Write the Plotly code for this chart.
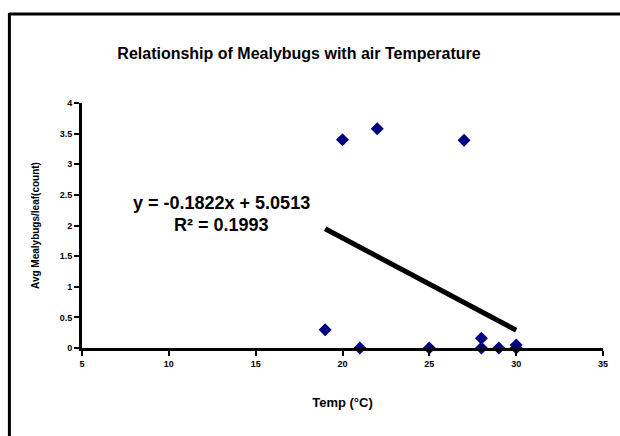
import numpy as np
import plotly.graph_objects as go

# ---- data ----
temp_c = [19, 20, 21, 22, 25, 27, 28, 28, 29, 30, 30]
avg_mealybugs = [0.30, 3.40, 0.00, 3.58, 0.00, 3.39, 0.16, 0.00, 0.00, 0.05, 0.00]
x_ticks = [5, 10, 15, 20, 25, 30, 35]
y_ticks = [0, 0.5, 1, 1.5, 2, 2.5, 3, 3.5, 4]
y_tick_labels = ["0", "0.5", "1", "1.5", "2", "2.5", "3", "3.5", "4"]
equation_label = "y = -0.1822x + 5.0513"
r2_label = "R² = 0.1993"
title_text = "Relationship of Mealybugs with air Temperature"
x_title = "Temp (°C)"
y_title = "Avg Mealybugs/leaf(count)"

# ---- layout geometry ----
W, H = 620, 436
ML, MR, MT, MB = 82, 14, 103, 88
PW, PH = W - ML - MR, H - MT - MB
FONT = "Arial, Liberation Sans, sans-serif"

def px_to_paper_x(px):
    return (px - ML) / PW

def px_to_paper_y(py):
    return (H - MB - py) / PH

# linear trend from data
slope, intercept = np.polyfit(temp_c, avg_mealybugs, 1)
trend_x = [min(temp_c), max(temp_c)]
trend_y = [slope * v + intercept for v in trend_x]

fig = go.Figure()
fig.add_trace(go.Scatter(
    x=trend_x, y=trend_y, mode="lines",
    line=dict(color="black", width=5),
    showlegend=False, hoverinfo="skip"))
fig.add_trace(go.Scatter(
    x=temp_c, y=avg_mealybugs, mode="markers",
    marker=dict(symbol="diamond", size=10, color="#000080"),
    showlegend=False, cliponaxis=False))

fig.update_layout(
    width=W, height=H,
    margin=dict(l=ML, r=MR, t=MT, b=MB),
    paper_bgcolor="white", plot_bgcolor="white",
    font=dict(family=FONT, color="black"),
    title=dict(text=title_text, x=299 / W, xanchor="center",
               y=1 - 53 / H, yanchor="middle",
               font=dict(size=16, family=FONT, weight="bold", color="black")),
    xaxis=dict(range=[5, 35], tickvals=x_ticks, ticks="outside", ticklen=5,
               tickwidth=2, tickcolor="black", showline=True, linewidth=3,
               linecolor="black", showgrid=False, zeroline=False,
               tickfont=dict(size=9, family=FONT, weight="bold"),
               title=dict(text=x_title, standoff=31,
                          font=dict(size=13, family=FONT, weight="bold"))),
    yaxis=dict(range=[0, 4], tickvals=y_ticks, ticktext=y_tick_labels,
               ticks="outside", ticklen=5, tickwidth=2, tickcolor="black",
               showline=True, linewidth=3, linecolor="black",
               showgrid=False, zeroline=False,
               tickfont=dict(size=9, family=FONT, weight="bold"),
               title=dict(text=y_title, standoff=19,
                          font=dict(size=10, family=FONT, weight="bold"))),
    annotations=[
        dict(x=px_to_paper_x(222), y=px_to_paper_y(203), xref="paper", yref="paper",
             text=equation_label, showarrow=False, xanchor="center", yanchor="middle",
             font=dict(size=18, family=FONT, weight="bold")),
        dict(x=px_to_paper_x(222), y=px_to_paper_y(225), xref="paper", yref="paper",
             text=r2_label, showarrow=False, xanchor="center", yanchor="middle",
             font=dict(size=18, family=FONT, weight="bold")),
    ],
    shapes=[
        dict(type="line", xref="paper", yref="paper",
             x0=px_to_paper_x(9), x1=px_to_paper_x(9),
             y0=px_to_paper_y(13), y1=px_to_paper_y(H + 5),
             line=dict(color="black", width=3)),
        dict(type="line", xref="paper", yref="paper",
             x0=px_to_paper_x(9), x1=px_to_paper_x(W + 5),
             y0=px_to_paper_y(14), y1=px_to_paper_y(14),
             line=dict(color="black", width=3)),
    ],
)

fig.write_html("out.html")
